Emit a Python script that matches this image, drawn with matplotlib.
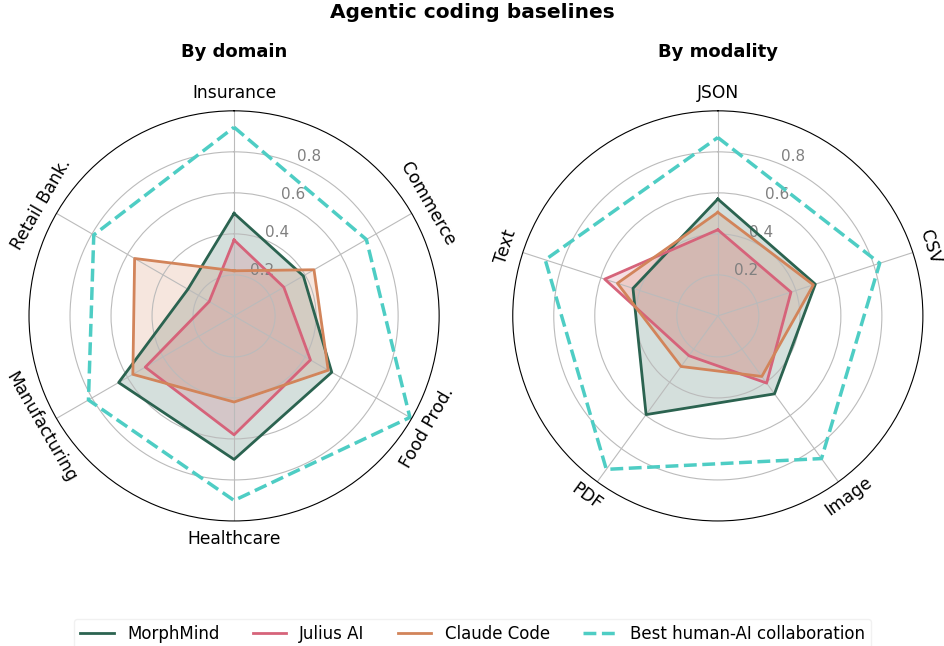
import numpy as np
import matplotlib
matplotlib.use('Agg')
import matplotlib.pyplot as plt

# by domain
domains = ['Insurance', 'Commerce', 'Food Prod.', 'Healthcare', 'Manufacturing', 'Retail Bank.']
dom_morph = [0.50, 0.39, 0.55, 0.70, 0.65, 0.26]
dom_julius = [0.37, 0.28, 0.43, 0.58, 0.50, 0.14]
dom_claude = [0.22, 0.45, 0.53, 0.42, 0.57, 0.56]
dom_best = [0.92, 0.745, 0.99, 0.90, 0.82, 0.79]

# by modality
modalities = ['JSON', 'CSV', 'Image', 'PDF', 'Text']
mod_morph = [0.57, 0.50, 0.47, 0.595, 0.435]
mod_julius = [0.42, 0.375, 0.405, 0.24, 0.58]
mod_claude = [0.505, 0.49, 0.365, 0.305, 0.515]
mod_best = [0.87, 0.83, 0.86, 0.925, 0.885]

names = ['MorphMind', 'Julius AI', 'Claude Code', 'Best human-AI collaboration']
colors = ['#2b6350', '#d6637a', '#d2845a', '#4ecdc4']

fig = plt.figure(figsize=(9.45, 6.46), dpi=100)
ax1 = fig.add_axes([0.0307, 0.1935, 0.434, 0.635], projection='polar')
ax2 = fig.add_axes([0.5426, 0.1935, 0.434, 0.635], projection='polar')


def radar(ax, cats, series, title):
    n = len(cats)
    ang = np.linspace(0, 2 * np.pi, n, endpoint=False)
    ang_c = np.append(ang, ang[0])
    ax.set_theta_offset(np.pi / 2)
    ax.set_theta_direction(-1)
    for i, vals in enumerate(series):
        v = np.append(vals, vals[0])
        if i < 3:
            ax.plot(ang_c, v, color=colors[i], lw=2, label=names[i])
            ax.fill(ang_c, v, color=colors[i], alpha=0.2)
        else:
            ax.plot(ang_c, v, color=colors[i], lw=2.5, ls='--', label=names[i])
    ax.set_ylim(0, 1.0)
    ax.set_yticks([0.2, 0.4, 0.6, 0.8])
    ax.set_yticklabels(['0.2', '0.4', '0.6', '0.8'], color='gray', fontsize=11)
    ax.set_xticks(ang)
    ax.set_xticklabels(cats, fontsize=12.3)
    ax.tick_params(axis='x', labelrotation='auto', pad=2.5)
    ax.grid(color='#bbbbbb', lw=0.8)
    ax.spines['polar'].set_linewidth(0.8)
    ax.set_title(title, fontsize=13, fontweight='bold', pad=39)


radar(ax1, domains, [dom_morph, dom_julius, dom_claude, dom_best], 'By domain')
radar(ax2, modalities, [mod_morph, mod_julius, mod_claude, mod_best], 'By modality')

fig.suptitle('Agentic coding baselines', fontsize=14.5, fontweight='bold', y=0.995)
h, l = ax1.get_legend_handles_labels()
fig.legend(h, l, loc='lower center', bbox_to_anchor=(0.5, -0.019), ncol=4, fontsize=12,
           frameon=True, edgecolor='#eeeeee')

fig.savefig('out.png', dpi=100)
